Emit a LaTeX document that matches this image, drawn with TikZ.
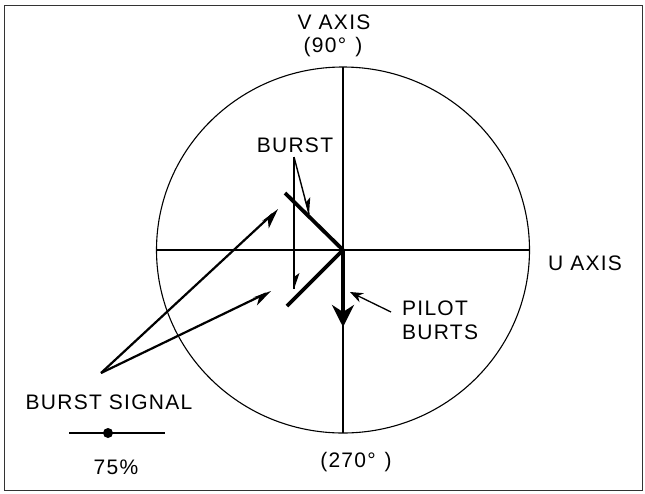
\documentclass[tikz,border=0pt]{standalone}
\usepackage{fontspec}
\setmainfont{Liberation Sans}[LetterSpace=6]
\usetikzlibrary{arrows.meta,calc}
% #1 tip, #2 tail, #3 length, #4 inset length, #5 barb angle, #6 barb width, #7 other angle, #8 other width
\newcommand{\mybarb}[8]{%
  \fill ($(#1)$) -- ($(#1)!#3!(#2)!#6!#5:(#1)$) -- ($(#1)!#4!(#2)$)
        -- ($(#1)!#3!(#2)!#8!#7:(#1)$) -- cycle;}
\begin{document}
\begin{tikzpicture}[x=1pt,y=-1pt,
  thinline/.style={line width=1.1pt},
  thickline/.style={line width=3.8pt},
  lbl/.style={font=\fontsize{21}{24}\selectfont, inner sep=0pt},
  sigline/.style={line width=2.2pt},
  ptr/.style={line width=1.4pt}
]
\useasboundingbox (0,0) rectangle (645,493);
\draw[line width=0.8pt, black!80] (4,5) rectangle (642,490);
% axes and circle
\coordinate (O) at (343,250);
\coordinate (top) at (343,67);
\coordinate (bot) at (343,433);
\coordinate (lft) at (156.5,250);
\coordinate (rgt) at (529.5,250);
\draw[thinline] (O) ellipse [x radius=186.5pt, y radius=183pt];
\draw[thinline] (top) -- (bot);
\draw[thinline] (lft) -- (rgt);
% labels
\node[lbl] (vaxis) at (334,22) {V AXIS};
\node[lbl] (v90) at (333,47) {(90°\hspace{9pt})};
\node[lbl] (uaxis) at (585,263) {U AXIS};
\node[lbl] (v270) at (356,462) {(270°\hspace{9pt})};
\node[lbl] (burst) at (295,145) {BURST};
\node[lbl, anchor=west, align=left] (pilot) at (402,320) {PILOT\\BURTS};
\node[lbl] (bsig) at (109,402) {BURST SIGNAL};
\node[lbl] (pct) at (116,467) {75\%};
% burst vectors
\coordinate (b1) at (285,193);
\coordinate (b2) at (287,306);
\draw[thickline] (b1) -- (O);
\draw[thickline] (b2) -- (O);
% pilot burst
\coordinate (ptip) at (343,327);
\draw[line width=4.6pt, -{Stealth[length=22pt,width=22pt,inset=7pt]}] (O) -- (ptip);
% burst pointers
\coordinate (bp) at (294,157);
\coordinate (bpv) at (294,289);
\coordinate (bpa) at (309,214);
\draw[ptr] (bp) -- (bpv);
\draw[ptr] (bp) -- (bpa);
\mybarb{bpv}{bp}{16pt}{12pt}{90}{5.5pt}{-90}{0.8pt}
\mybarb{bpa}{bp}{16pt}{12pt}{90}{5.5pt}{-90}{0.8pt}
% pilot pointer
\coordinate (pp0) at (391,312);
\coordinate (pp1) at (350,292);
\draw[line width=1.3pt, -{Stealth[length=13pt,width=10pt]}] (pp0) -- (pp1);
% burst signal arrows
\coordinate (bs) at (101,373);
\coordinate (bs1) at (278,209);
\coordinate (bs2) at (271,291);
\draw[sigline] (bs) -- ($(bs)!0.97!(bs1)$);
\draw[sigline] (bs) -- ($(bs)!0.97!(bs2)$);
\mybarb{bs1}{bs}{20pt}{14pt}{-90}{8pt}{90}{2pt}
\mybarb{bs2}{bs}{19pt}{13pt}{-90}{7pt}{90}{2pt}
% legend
\coordinate (la) at (69,433);
\coordinate (ld) at (108,433);
\coordinate (lb) at (165,433);
\draw[line width=1.4pt] (la) -- (ld);
\draw[line width=2.8pt] (ld) -- (lb);
\fill (ld) circle (5pt);
\end{tikzpicture}
\end{document}
